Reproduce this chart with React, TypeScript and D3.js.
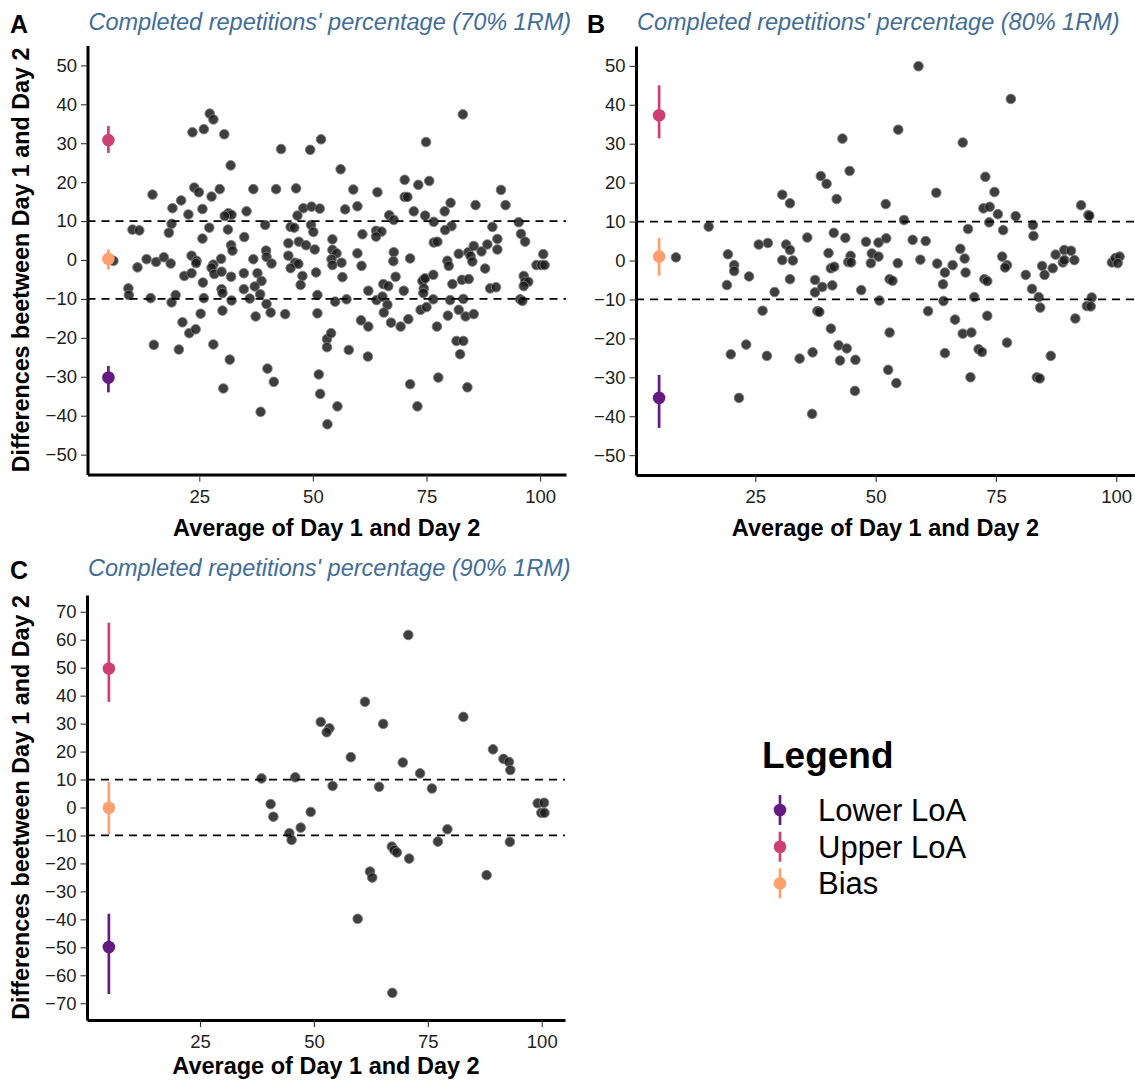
import React, { useRef, useEffect } from 'react';
import * as d3 from 'd3';

type Pt = [number, number];

// x ticks shared by all panels, y ticks per panel
const xTicks = [25, 50, 75, 100];
const yTicksAB = [50, 40, 30, 20, 10, 0, -10, -20, -30, -40, -50];
const yTicksC = [70, 60, 50, 40, 30, 20, 10, 0, -10, -20, -30, -40, -50, -60, -70];
const limitLines = [10, -10];

const legendLabels = ['Lower LoA', 'Upper LoA', 'Bias'];
const legendColors = ['#641a80', '#cd4071', '#fe9f6d'];

// [estimate, ci low, ci high], same order as legendLabels
const loaA = [[-30.2, -34, -27.2], [30.8, 27.5, 34.4], [0.3, -2.4, 2.7]];
const loaB = [[-35.3, -43, -29.4], [37.3, 31.4, 45], [1.0, -3.9, 5.8]];
const loaC = [[-49.9, -66.7, -38], [49.7, 37.8, 66.1], [-0.1, -9.5, 9.2]];
const loaX = 5;

const titles = [
  "Completed repetitions' percentage (70% 1RM)",
  "Completed repetitions' percentage (80% 1RM)",
  "Completed repetitions' percentage (90% 1RM)",
];
const tags = ['A', 'B', 'C'];
const xLabel = 'Average of Day 1 and Day 2';
const yLabel = 'Differences beetween Day 1 and Day 2';
const legendTitle = 'Legend';

// 70% 1RM
const pointsA: Pt[] = [
  [27.3, 37.6], [28.1, 36.1], [23.5, 32.8], [26.0, 33.6], [30.5, 32.3], [31.9, 24.3], [43.0, 28.5], [49.4, 28.3], [51.8, 31.0],
  [14.7, 16.8], [23.9, 18.6], [24.9, 17.4], [29.5, 18.2], [27.7, 16.3], [21.0, 15.3], [19.1, 13.3], [25.7, 13.1], [22.6, 11.7],
  [36.9, 18.2], [41.9, 18.2], [46.3, 18.4], [35.4, 12.5], [31.4, 12.0], [32.1, 11.6], [30.6, 11.3],
  [47.9, 13.3], [49.7, 13.7], [51.5, 13.2], [46.6, 11.4],
  [18.9, 9.3], [18.3, 7.0], [10.3, 7.8], [11.8, 7.6], [27.2, 8.3], [25.7, 5.5], [31.3, 7.8], [34.9, 5.9], [39.5, 9.0],
  [45.1, 8.5], [45.9, 8.3], [49.6, 9.0], [50.1, 7.2], [44.6, 4.3], [46.9, 4.7], [48.5, 3.8], [50.4, 2.7], [32.0, 3.8], [32.3, 2.4],
  [6.1, -0.2], [11.4, -1.9], [13.4, 0.2], [15.5, -0.5], [17.2, 0.7], [18.7, -0.9], [23.3, 1.1], [24.4, -0.2], [24.3, -0.8],
  [28.1, -1.2], [27.7, -2.0], [29.8, 0.3], [36.9, 0.2], [39.7, 2.4], [39.8, 0.8], [40.9, -0.9], [44.6, 1.1], [46.1, -0.7], [46.8, -1.0],
  [21.7, -4.1], [23.3, -3.4], [28.3, -3.6], [29.9, -3.0],
  [32.0, -4.3], [34.8, -3.4], [37.8, -3.4], [38.7, -5.4], [37.2, -6.8], [45.1, -2.1], [47.7, -4.1], [47.3, -6.4], [50.7, -3.2],
  [9.4, -7.3], [9.5, -9.0], [14.3, -9.8], [18.9, -10.9], [19.8, -9.0], [25.8, -5.8], [26.0, -9.8], [29.9, -7.5], [30.1, -8.5],
  [34.8, -7.5], [32.1, -10.4], [36.1, -9.9], [38.4, -8.8], [39.8, -11.3], [40.7, -13.5], [43.9, -13.9], [37.4, -14.5], [30.1, -13.0], [25.3, -13.8],
  [21.3, -16.0], [22.8, -18.8], [24.2, -17.8], [15.0, -21.8], [20.5, -23.0], [28.1, -21.7], [31.7, -25.6], [40.0, -27.9], [41.4, -31.3], [30.3, -33.0], [38.5, -39.0],
  [51.0, -9.0], [51.0, -13.7], [51.3, -29.4], [51.6, -34.4],
  [83.0, 37.4], [56.1, 23.3], [74.9, 30.3], [58.9, 18.1], [64.2, 17.4], [70.2, 20.6], [73.2, 19.3], [75.6, 20.3], [70.2, 16.2], [70.8, 16.2],
  [72.2, 12.5], [74.7, 11.4], [79.0, 12.5], [80.3, 14.7], [85.8, 14.1], [91.4, 18.0], [92.4, 14.1],
  [57.1, 13.0], [59.8, 13.8], [66.8, 11.5], [67.8, 10.3], [76.6, 9.8],
  [54.3, 5.3], [60.9, 6.6], [63.9, 7.5], [65.1, 7.3], [63.9, 6.0], [80.5, 8.7], [79.1, 7.7], [89.5, 8.5], [95.8, 6.7], [96.7, 4.7], [95.3, 9.7], [90.6, 5.4],
  [76.6, 4.5], [77.4, 4.7], [59.8, 1.7], [67.8, 2.0], [67.7, -0.3], [71.4, 0.4],
  [54.3, 2.6], [55.2, 1.7], [54.1, 0.2], [56.3, -0.7], [54.3, -1.3], [60.7, -1.5], [79.6, -0.2], [79.9, -1.5], [82.1, 1.6],
  [84.2, 2.0], [84.7, 1.0], [85.1, -0.4], [85.4, 3.6], [87.1, 2.2], [88.4, 4.0], [90.6, 2.7], [87.9, -2.2],
  [100.7, 1.5], [99.2, -1.3], [100.3, -1.3], [101.0, -1.3],
  [56.5, -4.4], [54.9, -10.7], [57.4, -10.1], [62.2, -7.9], [64.0, -10.3], [65.3, -9.4], [66.4, -11.5], [65.6, -13.5], [65.5, -6.2], [66.6, -6.7], [68.2, -4.3],
  [70.0, -7.9], [67.2, -16.1], [69.3, -17.1], [71.0, -15.2], [60.6, -15.5], [62.2, -17.1],
  [74.4, -5.0], [74.1, -5.4], [74.7, -4.7], [76.5, -3.8], [74.4, -7.3], [74.3, -8.5], [76.5, -10.1], [73.7, -12.8], [75.0, -12.1], [77.3, -17.1],
  [80.7, -6.2], [82.8, -5.1], [84.3, -4.9], [80.2, -10.3], [83.1, -10.0], [79.7, -14.3], [82.1, -12.8], [83.6, -14.5], [85.4, -13.9],
  [81.6, -20.8], [83.1, -20.8], [82.4, -24.2], [77.6, -30.2], [84.0, -32.7], [71.4, -31.9], [73.0, -37.6], [62.1, -24.8], [57.9, -23.1],
  [53.1, -20.3], [54.0, -18.8], [53.1, -22.4], [55.4, -37.6], [53.2, -42.2],
  [89.0, -7.3], [90.3, -7.0], [95.6, -10.1], [96.1, -10.5], [96.4, -4.1], [96.7, -5.6], [97.4, -5.6], [96.4, -6.7],
];

// 80% 1RM
const pointsB: Pt[] = [
  [8.5, 0.8], [15.3, 8.7], [19.3, 1.6], [20.6, -1.2], [20.6, -2.7], [19.1, -6.3], [23.7, -4.1], [25.7, 4.1], [27.6, 4.5], [29.0, -8.1],
  [26.5, -12.9], [23.1, -21.6], [19.9, -24.1], [27.4, -24.5], [21.6, -35.3],
  [30.6, 16.9], [32.2, 14.7], [31.4, 4.1], [32.2, 2.7], [30.6, 0.1], [32.8, 0.0], [32.2, -4.8], [35.8, 5.9], [34.2, -25.2], [36.9, -23.6], [36.8, -39.4],
  [37.4, -5.0], [37.4, -8.2], [38.9, -6.8], [37.9, -13.0], [38.3, -13.2], [38.6, 21.7], [39.8, 19.7], [43.1, 31.3], [44.6, 23.0], [41.9, 15.8], [41.3, 7.1], [43.7, 5.8],
  [40.2, 1.9], [40.7, -2.0], [41.4, -1.6], [41.0, -6.4], [40.7, -17.5], [42.3, -21.8], [44.0, -22.6], [42.6, -25.7], [45.8, -25.5], [45.7, -33.5],
  [44.8, 1.2], [44.3, -0.4], [44.9, -0.5], [47.0, -7.6], [48.0, 4.8], [50.6, 4.6], [49.0, -0.7], [49.2, 1.8], [50.6, 1.0], [50.8, -10.3],
  [52.1, 14.5], [52.2, 5.7], [55.9, 10.4], [54.7, 33.6], [58.9, 49.9], [54.6, -0.7], [52.9, -4.8], [53.5, -5.2], [52.9, -18.5], [52.6, -28.1], [54.3, -31.5],
  [57.7, 5.3], [60.4, 5.0], [59.3, 0.2], [62.6, 17.4], [62.8, -0.8], [64.4, -3.1], [64.0, -6.1], [66.0, -1.2], [64.1, -10.4], [60.9, -13.0], [64.4, -23.8], [66.5, -15.2],
  [68.1, 30.3], [67.6, 3.0], [68.5, 0.5], [68.7, -3.1], [69.2, 8.1], [70.5, -9.4], [68.1, -18.8], [69.9, -18.5], [69.7, -30.0], [71.4, -22.8], [72.1, -23.5],
  [72.8, 21.5], [74.7, 17.6], [72.4, 13.4], [73.7, 13.8], [75.4, 11.9], [73.6, 9.8], [76.5, 7.8], [78.1, 41.5], [79.1, 11.4], [72.6, -4.8], [73.2, -5.3], [73.2, -14.2],
  [76.3, 1.0], [77.3, -1.2], [76.9, -1.8], [77.3, -21.1], [82.7, 9.1], [82.8, 6.3], [81.2, -3.7], [82.5, -7.3], [83.9, -9.4], [84.2, -12.1], [84.6, -1.4], [85.1, -3.7], [86.8, -2.0],
  [83.5, -30.0], [84.1, -30.3], [86.4, -24.5], [87.4, 1.5], [89.2, 2.7], [90.6, 2.5], [88.9, -0.5], [89.2, 0.1], [91.3, 0.1], [91.5, -14.9], [92.7, 14.2], [94.2, 11.7], [94.4, 11.5],
  [94.9, -9.5], [93.9, -11.7], [94.7, -11.8], [99.1, -0.5], [99.8, 0.6], [100.7, 1.0], [100.3, -0.7],
];

// 90% 1RM
const pointsC: Pt[] = [
  [38.5, 10.4], [45.9, 10.8], [51.5, 30.6], [53.4, 28.3], [52.8, 26.9], [54.1, 7.7], [58.1, 18.0], [61.2, 37.8], [64.3, 7.4], [65.2, 29.9],
  [69.5, 16.1], [70.7, 61.7], [73.3, 12.2], [75.9, 6.8], [82.8, 32.4], [89.3, 20.8], [91.6, 17.4], [92.8, 16.3], [93.1, 13.4],
  [40.5, 1.2], [41.1, -3.3], [49.3, -1.6], [44.6, -9.2], [45.1, -11.6], [47.1, -7.2], [67.1, -14.0], [67.6, -15.2], [68.2, -16.1], [70.9, -18.3],
  [62.3, -22.9], [62.8, -25.1], [77.2, -12.2], [79.3, -7.8], [87.9, -24.2], [93.0, -12.3], [99.1, 1.5], [100.5, 1.7], [99.9, -1.9], [100.6, -1.9],
  [59.6, -39.8], [67.2, -66.3],
];

const FONT = '"Liberation Sans", Arial, Helvetica, sans-serif';
const W = 1135;
const H = 1083;

// layout of the three panels (pixels)
const panels = [
  { i: 0, pts: pointsA, loa: loaA, yTicks: yTicksAB, xDom: [0.4, 105.7], xRange: [87.5, 566], yDom: [-55.1, 55.1], yRange: [474.5, 45.5], tagX: 10, tagY: 33, titleY: 30, xTitleY: 536, yTitle: true },
  { i: 1, pts: pointsB, loa: loaB, yTicks: yTicksAB, xDom: [0.2, 103.9], xRange: [636, 1135], yDom: [-55.1, 55.1], yRange: [475, 46], tagX: 587, tagY: 33, titleY: 30, xTitleY: 536, yTitle: false },
  { i: 2, pts: pointsC, loa: loaC, yTicks: yTicksC, xDom: [0.2, 105.1], xRange: [87, 565], yDom: [-76, 76], yRange: [1020, 595], tagX: 10, tagY: 579, titleY: 576, xTitleY: 1074, yTitle: true },
];

const App = () => {
  const ref = useRef<SVGSVGElement>(null);

  useEffect(() => {
    const svg = d3.select(ref.current);
    svg.selectAll('*').remove();
    svg.append('rect').attr('width', W).attr('height', H).attr('fill', '#fff');

    panels.forEach(p => {
      const x = d3.scaleLinear().domain(p.xDom).range(p.xRange);
      const y = d3.scaleLinear().domain(p.yDom).range(p.yRange);
      const g = svg.append('g');

      // scatter points
      g.append('g')
        .selectAll('circle')
        .data(p.pts)
        .enter()
        .append('circle')
        .attr('cx', d => x(d[0]))
        .attr('cy', d => y(d[1]))
        .attr('r', 4.8)
        .attr('fill', '#1c1c1c')
        .attr('fill-opacity', 0.85)
        .attr('stroke', '#7a7a7a')
        .attr('stroke-width', 0.9);

      // +-10 reference lines
      g.selectAll('.ref')
        .data(limitLines)
        .enter()
        .append('line')
        .attr('x1', p.xRange[0])
        .attr('x2', p.xRange[1])
        .attr('y1', d => y(d))
        .attr('y2', d => y(d))
        .attr('stroke', '#000')
        .attr('stroke-width', 1.8)
        .attr('stroke-dasharray', '8,6');

      // bias and limits of agreement with their CIs
      const eb = g.selectAll('.eb')
        .data(p.loa)
        .enter()
        .append('g');
      eb.append('line')
        .attr('x1', x(loaX)).attr('x2', x(loaX))
        .attr('y1', d => y(d[1])).attr('y2', d => y(d[2]))
        .attr('stroke', (d, k) => legendColors[k])
        .attr('stroke-width', 2.7);
      eb.append('circle')
        .attr('cx', x(loaX))
        .attr('cy', d => y(d[0]))
        .attr('r', 6.3)
        .attr('fill', (d, k) => legendColors[k]);

      // axes
      const yAxis = d3.axisLeft(y).tickValues(p.yTicks).tickSize(6.5).tickPadding(4).tickSizeOuter(0);
      const gy = g.append('g')
        .attr('transform', `translate(${p.xRange[0]},0)`)
        .call(yAxis);
      const xAxis = d3.axisBottom(x).tickValues(xTicks).tickSize(7).tickPadding(8).tickSizeOuter(0);
      const gx = g.append('g')
        .attr('transform', `translate(0,${p.yRange[0]})`)
        .call(xAxis);
      [gx, gy].forEach(a => {
        a.attr('font-family', FONT).attr('font-size', 18.5);
        a.select('.domain').attr('stroke', '#000').attr('stroke-width', 3);
        a.selectAll('.tick line').attr('stroke', '#333').attr('stroke-width', 1.1);
        a.selectAll('.tick text').attr('fill', '#1e1e1e');
      });

      // titles
      g.append('text')
        .attr('x', p.tagX).attr('y', p.tagY)
        .attr('font-family', FONT).attr('font-size', 25).attr('font-weight', 'bold')
        .text(tags[p.i]);
      g.append('text')
        .attr('x', p.xRange[0] + 1).attr('y', p.titleY)
        .attr('font-family', FONT).attr('font-size', 23.5).attr('font-style', 'italic')
        .attr('fill', '#416d98')
        .text(titles[p.i]);
      g.append('text')
        .attr('x', (p.xRange[0] + p.xRange[1]) / 2).attr('y', p.xTitleY)
        .attr('text-anchor', 'middle')
        .attr('font-family', FONT).attr('font-size', 23.5).attr('font-weight', 'bold')
        .text(xLabel);
      if (p.yTitle) {
        const cy = (p.yRange[0] + p.yRange[1]) / 2;
        g.append('text')
          .attr('transform', `translate(29,${cy}) rotate(-90)`)
          .attr('text-anchor', 'middle')
          .attr('font-family', FONT).attr('font-size', 23.3).attr('font-weight', 'bold')
          .text(yLabel);
      }
    });

    // legend
    const lg = svg.append('g').attr('font-family', FONT);
    lg.append('text')
      .attr('x', 762).attr('y', 768)
      .attr('font-size', 37).attr('font-weight', 'bold')
      .text(legendTitle);
    const item = lg.selectAll('.item')
      .data(legendLabels)
      .enter()
      .append('g')
      .attr('transform', (d, k) => `translate(780,${810 + k * 36.7})`);
    item.append('line')
      .attr('y1', -15).attr('y2', 15)
      .attr('stroke', (d, k) => legendColors[k])
      .attr('stroke-width', 2.7);
    item.append('circle')
      .attr('r', 6.3)
      .attr('fill', (d, k) => legendColors[k]);
    item.append('text')
      .attr('x', 38).attr('y', 11)
      .attr('font-size', 31)
      .text(d => d);
  }, []);

  return (
    <svg
      ref={ref}
      width={W}
      height={H}
      style={{ position: 'absolute', left: 0, top: 0, display: 'block' }}
    />
  );
};

export default App;
